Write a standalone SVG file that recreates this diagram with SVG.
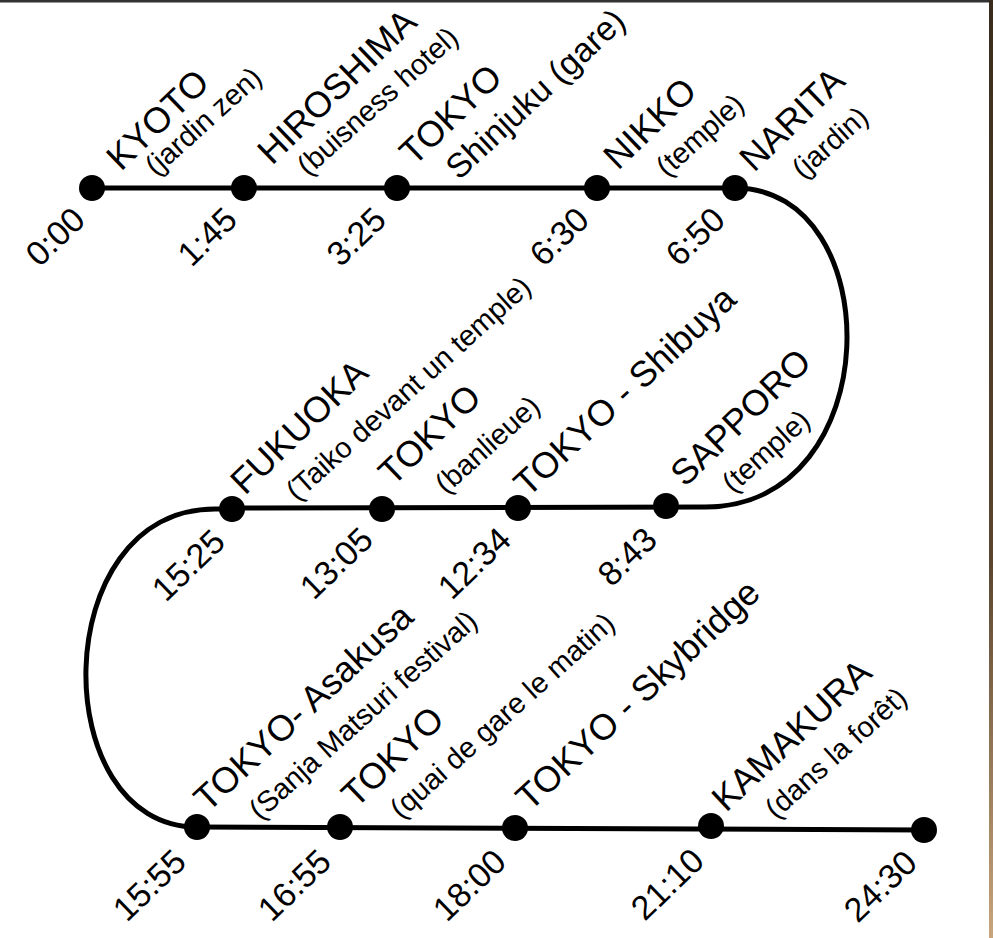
<svg xmlns="http://www.w3.org/2000/svg" width="993" height="938" viewBox="0 0 993 938">
<defs>
<linearGradient id="edge" x1="0" y1="0" x2="0" y2="1">
<stop offset="0" stop-color="#3a2c1c"/>
<stop offset="0.6" stop-color="#5a4630"/>
<stop offset="1" stop-color="#c8a57c"/>
</linearGradient>
</defs>
<style>
.t{font-family:"Liberation Sans",Arial,sans-serif;fill:#000}
.n{font-size:36px}
.s{font-size:29px}
.g{font-size:34px}
.h{font-size:34px;text-anchor:end}
.ln{fill:none;stroke:#000;stroke-width:5}
.dot{fill:#000}
</style>
<rect width="993" height="938" fill="#fff"/>
<rect x="0" y="0" width="990" height="2.5" fill="#333"/>
<rect x="989" y="0" width="4" height="938" fill="url(#edge)"/>
<g id="connectors">
<path class="ln" d="M92,188 L735,188"/>
<path class="ln" d="M735,188 C889,188 889,507 705,507 L232,508"/>
<path class="ln" d="M232,509 L215,509 C46,509 46,827 197,827"/>
<path class="ln" d="M197,827 L924,830"/>
</g>
<g id="kyoto"><circle class="dot" cx="92" cy="188" r="13"/>
<text class="t n" transform="translate(121,172) rotate(-44)">KYOTO</text>
<text class="t s" transform="translate(156,177) rotate(-42)">(jardin zen)</text>
<text class="t h" transform="translate(87,222) rotate(-44)">0:00</text></g>
<g id="hiroshima"><circle class="dot" cx="244" cy="188" r="13"/>
<text class="t n" transform="translate(272,166) rotate(-44)">HIROSHIMA</text>
<text class="t s" transform="translate(308,177) rotate(-42)">(buisness hotel)</text>
<text class="t h" transform="translate(239,222) rotate(-44)">1:45</text></g>
<g id="tokyo-shinjuku"><circle class="dot" cx="397" cy="188" r="13"/>
<text class="t n" transform="translate(414,167) rotate(-44)">TOKYO</text>
<text class="t g" transform="translate(459,181) rotate(-43)">Shinjuku (gare)</text>
<text class="t h" transform="translate(388,222) rotate(-44)">3:25</text></g>
<g id="nikko"><circle class="dot" cx="597" cy="188" r="13"/>
<text class="t n" transform="translate(618,171) rotate(-44)">NIKKO</text>
<text class="t s" transform="translate(667,178) rotate(-42)">(temple)</text>
<text class="t h" transform="translate(591,222) rotate(-44)">6:30</text></g>
<g id="narita"><circle class="dot" cx="735" cy="188" r="13"/>
<text class="t n" transform="translate(754,173) rotate(-44)">NARITA</text>
<text class="t s" transform="translate(803,180) rotate(-42)">(jardin)</text>
<text class="t h" transform="translate(727,222) rotate(-44)">6:50</text></g>
<g id="sapporo"><circle class="dot" cx="666" cy="506" r="13"/>
<text class="t n" transform="translate(685,488) rotate(-44)">SAPPORO</text>
<text class="t s" transform="translate(733,494) rotate(-42)">(temple)</text>
<text class="t h" transform="translate(659,542) rotate(-44)">8:43</text></g>
<g id="tokyo-shibuya"><circle class="dot" cx="518" cy="508" r="13"/>
<text class="t n" transform="translate(528,498) rotate(-43)">TOKYO - Shibuya</text>
<text class="t h" transform="translate(513,542) rotate(-44)">12:34</text></g>
<g id="tokyo-banlieue"><circle class="dot" cx="382" cy="509" r="13"/>
<text class="t n" transform="translate(393,487) rotate(-44)">TOKYO</text>
<text class="t s" transform="translate(446,495) rotate(-42)">(banlieue)</text>
<text class="t h" transform="translate(375,542) rotate(-44)">13:05</text></g>
<g id="fukuoka"><circle class="dot" cx="232" cy="509" r="13"/>
<text class="t n" transform="translate(245,496) rotate(-44)">FUKUOKA</text>
<text class="t s" transform="translate(297,502) rotate(-42)">(Taiko devant un temple)</text>
<text class="t h" transform="translate(227,544) rotate(-44)">15:25</text></g>
<g id="tokyo-asakusa"><circle class="dot" cx="197" cy="827" r="13"/>
<text class="t n" transform="translate(208,813) rotate(-43)">TOKYO- Asakusa</text>
<text class="t s" transform="translate(260,821) rotate(-42)">(Sanja Matsuri festival)</text>
<text class="t h" transform="translate(188,864) rotate(-44)">15:55</text></g>
<g id="tokyo-quai"><circle class="dot" cx="340" cy="827" r="13"/>
<text class="t n" transform="translate(356,809) rotate(-44)">TOKYO</text>
<text class="t s" transform="translate(401,820) rotate(-42)">(quai de gare le matin)</text>
<text class="t h" transform="translate(333,864) rotate(-44)">16:55</text></g>
<g id="tokyo-skybridge"><circle class="dot" cx="515" cy="828" r="13"/>
<text class="t n" transform="translate(530,812) rotate(-43)">TOKYO - Skybridge</text>
<text class="t h" transform="translate(508,864) rotate(-44)">18:00</text></g>
<g id="kamakura"><circle class="dot" cx="711" cy="826" r="13"/>
<text class="t n" transform="translate(726,813) rotate(-43)">KAMAKURA</text>
<text class="t s" transform="translate(776,820) rotate(-42)">(dans la forêt)</text>
<text class="t h" transform="translate(706,863) rotate(-44)">21:10</text></g>
<g id="end"><circle class="dot" cx="924" cy="830" r="13"/>
<text class="t h" transform="translate(919,865) rotate(-44)">24:30</text></g>
</svg>
